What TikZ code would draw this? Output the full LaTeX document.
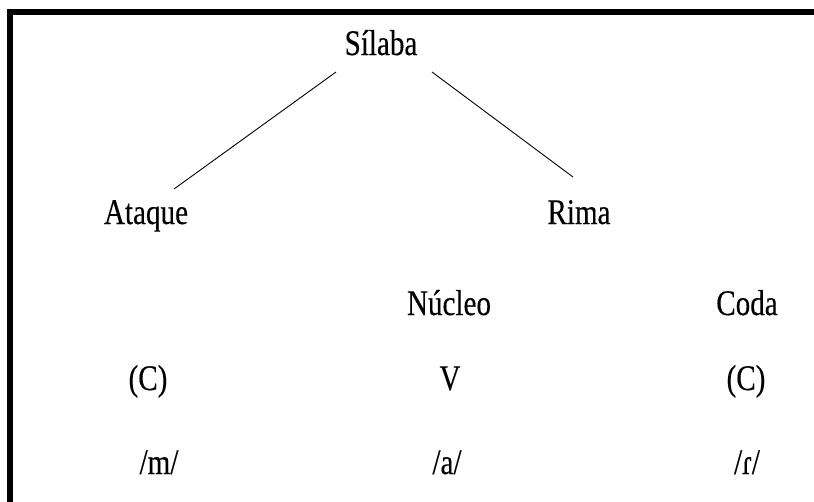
\documentclass[tikz,border=0pt]{standalone}
\usepackage{fontspec}
\setmainfont{Liberation Serif}
\newfontfamily\heavyserif{Liberation Serif}[FakeBold=0.35]
\usetikzlibrary{calc}
\newcommand\talltxt[1]{\scalebox{0.97}[1.2]{#1}}
\begin{document}
\begin{tikzpicture}[x=1pt,y=-1pt,
  lbl/.style={anchor=base,inner sep=0pt,font=\heavyserif\fontsize{30}{36}\selectfont},
  edge/.style={line width=0.9pt,black}]
\useasboundingbox (0,0) rectangle (814,501);
\fill[white] (0,0) rectangle (814,501);
\draw[line width=6pt,miter limit=10] (10,505) -- (10,12) -- (818,12);
% nodes
\node[lbl] (sil) at (381,55) {\talltxt{Sílaba}};
\node[lbl] (ata) at (146,224) {\talltxt{Ataque}};
\node[lbl] (rim) at (579,224) {\talltxt{Rima}};
\node[lbl] (nuc) at (449,315) {\talltxt{Núcleo}};
\node[lbl] (cod) at (747,315) {\talltxt{Coda}};
\node[lbl] (c1) at (148,390) {\talltxt{(C)}};
\node[lbl] (v) at (450,390) {\talltxt{V}};
\node[lbl] (c2) at (746,390) {\talltxt{(C)}};
\node[lbl] (m) at (159,474) {\talltxt{/m/}};
\node[lbl] (a) at (447,474) {\talltxt{/a/}};
\node[lbl] (r) at (747,474) {\talltxt{/ɾ/}};
% connectors
\draw[edge] ($(sil.base)+(-45,17)$) -- ($(ata.base)+(28,-35)$);
\draw[edge] ($(sil.base)+(51,17)$) -- ($(rim.base)+(-6,-47)$);
\end{tikzpicture}
\end{document}
